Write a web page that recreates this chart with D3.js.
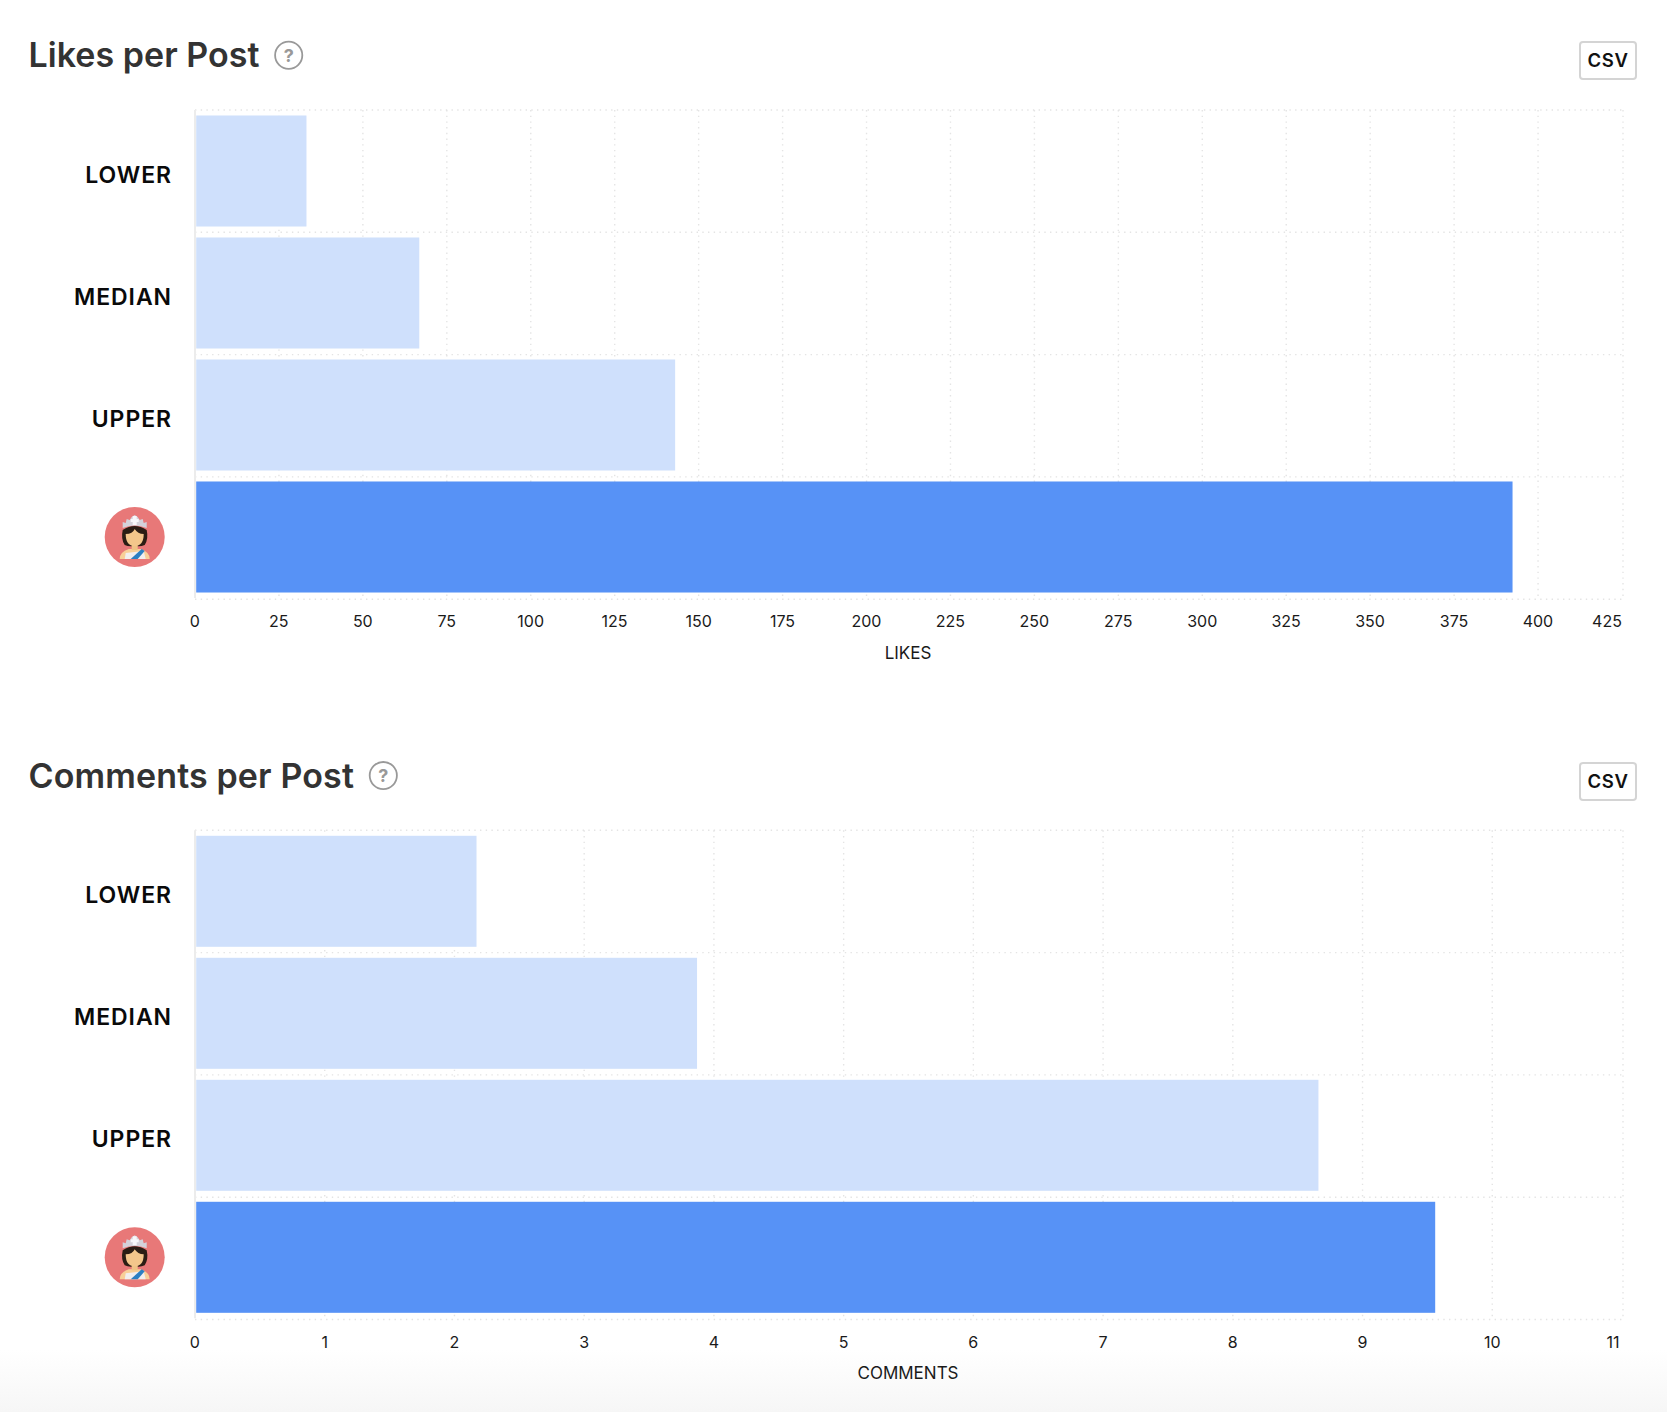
<!DOCTYPE html>
<html><head><meta charset="utf-8">
<script src="https://d3js.org/d3.v7.min.js"></script>
<style>
html,body{margin:0;padding:0;background:#fff}
svg{display:block;font-family:Inter,"Noto Sans",sans-serif}
</style></head>
<body><svg id="c" width="1667" height="1412"></svg>
<script>
const categories = ["LOWER","MEDIAN","UPPER","ME"];
const likesValues = [33.2, 66.8, 143, 392.4];
const likesTicks = d3.range(0, 426, 25);
const commentsValues = [2.17, 3.87, 8.66, 9.56];
const commentsTicks = d3.range(0, 12, 1);
const charts = [
  {title:"Likes per Post", axis:"LIKES", values:likesValues, ticks:likesTicks, max:425, top:110, helpX:288.7, hdr:0, spacing:0.03, lastDx:0},
  {title:"Comments per Post", axis:"COMMENTS", values:commentsValues, ticks:commentsTicks, max:11, top:830.3, helpX:383.3, hdr:0.8, spacing:0.13, lastDx:-2.5}
];
const svg = d3.select("#c");
const defs = svg.append("defs");
const grad = defs.append("linearGradient").attr("id","fade").attr("x1",0).attr("x2",0).attr("y1",0).attr("y2",1);
grad.append("stop").attr("offset",0).attr("stop-color","#fff");
grad.append("stop").attr("offset",1).attr("stop-color","#f6f6f6");
svg.append("rect").attr("x",0).attr("y",1350).attr("width",1667).attr("height",62).attr("fill","url(#fade)");

const L=195,R=1622,H=488;
charts.forEach(c=>{
  const g = svg.append("g").attr("transform",`translate(0,${c.top})`);
  const x = d3.scaleLinear().domain([0,c.max]).range([L,R]);
  const y = d3.scaleBand().domain(categories).range([0,H]).paddingInner(0.09).paddingOuter(0.045);
  g.append("text").attr("x",28.5).attr("y",-43.5+c.hdr).attr("font-size",34).attr("font-weight",600).attr("letter-spacing",c.spacing).attr("fill","#333").text(c.title);
  const hy=-54.7;
  g.append("circle").attr("cx",c.helpX).attr("cy",hy).attr("r",13.6).attr("fill","none").attr("stroke","#999").attr("stroke-width",1.8);
  g.append("text").attr("x",c.helpX).attr("y",hy+6.5).attr("text-anchor","middle").attr("font-size",18).attr("font-weight",700).attr("fill","#999").text("?");
  g.append("rect").attr("x",1580).attr("y",-68+c.hdr).attr("width",56).attr("height",37).attr("rx",3).attr("fill","#fff").attr("stroke","#d4d4d4").attr("stroke-width",2);
  g.append("text").attr("x",1608).attr("y",-43+c.hdr).attr("text-anchor","middle").attr("font-size",18.5).attr("font-weight",600).attr("letter-spacing",0.6).attr("fill","#111").text("CSV");
  const gridStyle = s=>s.attr("stroke","#e4e4e4").attr("stroke-width",1.4).attr("stroke-dasharray","1.4 4.3");
  g.append("g").selectAll("line").data(c.ticks.slice(1)).join("line")
    .attr("x1",d=>x(d)).attr("x2",d=>x(d)).attr("y1",0).attr("y2",H).attr("transform",d=>d===c.max?"translate(1,0)":null).call(gridStyle);
  g.append("g").selectAll("line").data(d3.range(0,5)).join("line")
    .attr("x1",L).attr("x2",R+1).attr("y1",d=>d*122.3).attr("y2",d=>d*122.3).call(gridStyle);
  g.append("line").attr("x1",L).attr("x2",L).attr("y1",0).attr("y2",H).attr("stroke","#ececec").attr("stroke-width",2);
  g.append("g").selectAll("rect").data(c.values).join("rect")
    .attr("x",x(0)+1.2)
    .attr("y",(d,i)=>y(categories[i]))
    .attr("width",d=>x(d)-x(0)-1.2)
    .attr("height",y.bandwidth())
    .attr("fill",(d,i)=>i===3?"#5792f6":"#cfe0fc");
  g.append("g").selectAll("text").data(categories.slice(0,3)).join("text")
    .attr("x",172).attr("y",d=>y(d)+y.bandwidth()/2+11.5)
    .attr("text-anchor","end").attr("font-size",23).attr("font-weight",600).attr("letter-spacing",0.95).attr("fill","#0a0a0a").text(d=>d);
  const a = g.append("g").attr("transform",`translate(134.7,${y("ME")+y.bandwidth()/2})`);
  a.append("circle").attr("r",30).attr("fill","#e87878");
  a.append("path").attr("d","M-15,22 Q-15,15 -6,12 L6,12 Q15,15 15,22 Z").attr("fill","#f8cf98");
  a.append("path").attr("d","M-10,22 L-9,16 L9,14 L11,22 Z").attr("fill","#f2eeee");
  a.append("path").attr("d","M-4,22 L7,12 L10,14 L3,22 Z").attr("fill","#2c7fc2");
  a.append("path").attr("d","M-12,-7 Q-14,2 -10,8 Q-6,10 0,9 Q6,10 10,8 Q14,2 12,-7 Q0,-15 -12,-7 Z").attr("fill","#2b1d14");
  a.append("path").attr("d","M-3,6 L3,6 L3,13 L-3,13 Z").attr("fill","#efc285");
  a.append("path").attr("d","M-9,-3 Q-2,-3 0,-8 Q3,-3 9,-3 Q9,9 0,9 Q-9,9 -9,-3 Z").attr("fill","#f3c68b");
  a.append("path").attr("d","M-12,-9 L-12,-15 L-9,-14 L-8,-18 L-5,-17 L-3,-20 L0,-22 L3,-20 L5,-17 L8,-18 L9,-14 L12,-15 L12,-9 Q0,-14 -12,-9 Z").attr("fill","#d4d2da");
  a.append("path").attr("d","M-2,-21 L2,-21 L2,-18 L4,-18 L4,-15 L2,-15 L2,-12 L-2,-12 L-2,-15 L-4,-15 L-4,-18 L-2,-18 Z").attr("fill","#f7f7fa");
  const ax = g.append("g").attr("transform",`translate(-0.6,${H})`).call(
    d3.axisBottom(x).tickValues(c.ticks).tickSize(0).tickPadding(18).tickFormat(d3.format("d")));
  ax.select(".domain").remove();
  ax.selectAll("text").attr("font-size",16).attr("font-family","Inter").attr("fill","#1a1a1a");
  ax.selectAll(".tick:last-child text").attr("text-anchor","end").attr("dx",c.lastDx);
  g.append("text").attr("x",908).attr("y",549).attr("text-anchor","middle").attr("font-size",17).attr("fill","#1a1a1a").text(c.axis);
});
</script></body></html>
